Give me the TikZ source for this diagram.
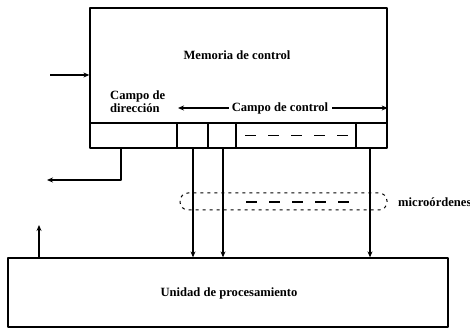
\documentclass[tikz,border=0pt]{standalone}
\usepackage{fontspec}
\setmainfont{Liberation Serif}
\usepackage{tikz}
\usetikzlibrary{arrows.meta,calc}
\tikzset{
  every picture/.style={font=\bfseries\fontsize{12.6}{13}\selectfont, line join=round, >={Stealth[length=6pt,width=5pt]}},
  boxline/.style={line width=1.3pt},
  cell/.style={draw, boxline, inner sep=0pt},
  wire/.style={line width=1.1pt},
  gaps/.style={wire, dash pattern=on 11pt off 12pt},
  lbl/.style={inner sep=0pt, align=left},
}

\begin{document}
\begin{tikzpicture}[x=1pt,y=-1pt]
\useasboundingbox (0,0) rectangle (470,328);
% memoria de control
\node[cell, minimum width=297pt, minimum height=115pt] (mem) at (238.5,65.5) {};
\node[lbl] (memtxt) at (237,55) {Memoria de control};
\node[cell, minimum width=87pt, minimum height=25pt] (dir) at (133.5,135.5) {};
\node[cell, minimum width=31pt, minimum height=25pt] (c1) at (192.5,135.5) {};
\node[cell, minimum width=28pt, minimum height=25pt] (c2) at (222,135.5) {};
\node[cell, minimum width=120pt, minimum height=25pt] (cdots) at (296,135.5) {};
\node[cell, minimum width=31pt, minimum height=25pt] (cn) at (371.5,135.5) {};
\draw[gaps] (245,135.5) -- (348,135.5);
\node[lbl, anchor=west] (dirtxt) at (110,101.5) {Campo de\\dirección};
\node[lbl] (cc) at (280,108) {Campo de control};
\coordinate (ccl) at (178,108);
\draw[wire,->] ($(cc.west)+(-3,0)$) -- (ccl);
\draw[wire,->] ($(cc.east)+(4,0)$) -- (mem.east |- cc.east);
% unidad de procesamiento
\node[cell, minimum width=440pt, minimum height=69pt] (proc) at (228,292.5) {};
\node[lbl] (proctxt) at (229,293) {Unidad de procesamiento};
% conexiones
\coordinate (inp) at (50,75);
\draw[wire,->] (inp) -- (mem.west |- inp);
\coordinate (dirout) at (121,148);
\coordinate (dirend) at (47,180);
\draw[wire,->] (dirout) -- (dirout |- dirend) -- (dirend);
\coordinate (procout) at (39,225);
\draw[wire,->] (procout |- proc.north) -- (procout);
\coordinate (c1s) at (193,148);
\coordinate (c2s) at (223,148);
\coordinate (cns) at (370,148);
\draw[wire,->] (c1s) -- (c1s |- proc.north);
\draw[wire,->] (c2s) -- (c2s |- proc.north);
\draw[wire,->] (cns) -- (cns |- proc.north);
% microordenes
\draw[line width=1pt, dash pattern=on 3pt off 4pt, rounded corners=8pt] (180,193) rectangle (387,210);
\draw[gaps] (246,202) -- (349,202);
\node[lbl, anchor=west] (micro) at (398,202) {microórdenes};
\end{tikzpicture}
\end{document}
